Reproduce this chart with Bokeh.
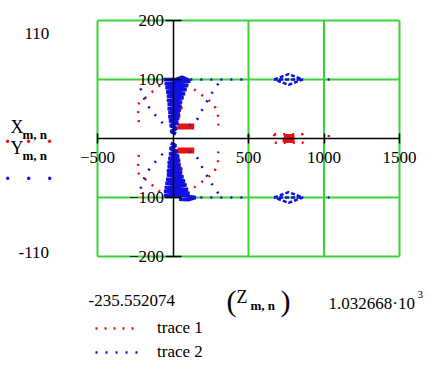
from bokeh.plotting import figure
from bokeh.models import LinearAxis, FixedTicker, Label, Legend, LegendItem, Range1d
from bokeh.embed import file_html
from bokeh.resources import INLINE

# ---------------- data ----------------
# trace 2 : Y(m,n) against Z(m,n)  (blue)
b_col_up_z = [110, 60, 20, -60, 115, -55, 100, -50, 90, -45, 80, -40, 70, -40, 60, -35, 55, -35, 50, -30, 45, -30, 40, -25, 35, -20, 25, -15, 20]
b_col_up_y = [98, 104, 100, 100, 97, 93, 90, 86, 83, 79, 76, 72, 69, 65, 62, 58, 55, 51, 48, 44, 41, 37, 34, 30, 26, 22, 17, 12, 8]
b_col_dn_z = [-15, 20, -20, 30, -25, 40, -30, 45, -35, 50, -35, 55, -40, 60, -40, 70, -45, 80, -50, 90, -55, 100, -60, 110, -60, 60, 150, 100, 40]
b_col_dn_y = [-8, -12, -17, -22, -26, -30, -34, -37, -41, -44, -48, -51, -55, -58, -62, -65, -69, -72, -76, -79, -83, -86, -90, -93, -97, -96, -100, -104, -103]
b_top_z = [115, 500]
b_top_y = [100, 100]
b_bot_z = [115, 500]
b_bot_y = [-100, -100]
b_dia_up_z = [670, 765, 860, 765, 670, 860]
b_dia_up_y = [100, 109, 100, 91, 100, 100]
b_dia_dn_z = [670, 765, 860, 765, 670, 860]
b_dia_dn_y = [-100, -91, -100, -109, -100, -100]
b_end_up_z = [1024, 1040]
b_end_up_y = [100, 100]
b_end_dn_z = [1024, 1040]
b_end_dn_y = [-100, -100]
b_ul_z = [-215, -180, -145, -95, -45]
b_ul_y = [85, 60, 48, 33, 20]
b_ur_z = [300, 252, 200, 165, 110]
b_ur_y = [93, 75, 52, 34, 22]
b_ll_z = [-215, -180, -145, -95, -45]
b_ll_y = [-85, -60, -48, -33, -20]
b_lr_z = [300, 252, 200, 165, 110]
b_lr_y = [-93, -75, -52, -34, -22]

# trace 1 : X(m,n) against Z(m,n)  (red)
r_col_up_z = [-20, 40, -25, 50, -20, 60, -15, 45, 0, 30]
r_col_up_y = [90, 84, 76, 70, 62, 52, 44, 38, 32, 28]
r_col_dn_z = [-20, 40, -25, 50, -20, 60, -15, 45, 0, 30]
r_col_dn_y = [-90, -84, -76, -70, -62, -52, -44, -38, -32, -28]
r_bar_up_z = [30, 140, 30, 140]
r_bar_up_y = [23, 23, 18, 18]
r_bar_dn_z = [30, 140, 30, 140]
r_bar_dn_y = [-18, -18, -23, -23]
r_ul_z = [-40, -110, -170, -232, -230, -225]
r_ul_y = [100, 85, 72, 58, 40, 22]
r_ur_z = [40, 130, 210, 271, 298, 300]
r_ur_y = [100, 85, 70, 58, 41, 22]
r_ll_z = [-40, -110, -170, -232, -230, -225]
r_ll_y = [-100, -85, -72, -58, -40, -22]
r_lr_z = [40, 130, 210, 271, 298, 300]
r_lr_y = [-100, -85, -70, -58, -41, -22]
r_m500_z = [500, 500]
r_m500_y = [6, -6]
r_m1032_z = [1032, 1032]
r_m1032_y = [6, -6]
r_box_z = [670, 860, 860, 670, 670]
r_box_y = [7, 7, -7, -7, 7]
r_blk_z = [735, 795, 795, 735, 735, 795]
r_blk_y = [5, 5, -5, -5, 0, 0]

x_ticks = [-500, 500, 1000, 1500]
y_ticks = [-200, -100, 100, 200]
x_grid = [-500, 500, 1000, 1500]
y_grid = [-200, -100, 100, 200]
x_lim = (-500, 1500)
y_lim = (-200, 200)

GREEN = "#3ad43a"
RED = "#e81010"
BLUE = "#1010e0"
FONT = "Liberation Serif"
W, H = 430, 368

# page pixel -> data (plot box spans px 97..399 horizontally, 20..256 vertically)
def px2x(px):
    return x_lim[0] + (px - 97) * (x_lim[1] - x_lim[0]) / 302

def py2y(py):
    return y_lim[1] - (py - 20) * (y_lim[1] - y_lim[0]) / 236

p = figure(width=W, height=H, x_range=Range1d(px2x(0), px2x(W)), y_range=Range1d(py2y(H), py2y(0)),
           x_axis_location=None, y_axis_location=None, output_backend="svg",
           toolbar_location=None, min_border=0)
p.center = []
p.outline_line_color = None
p.background_fill_color = "white"
p.border_fill_color = "white"

# green grid / plot box, limited to the plot box
p.segment(x0=x_grid, y0=[y_lim[0]] * len(x_grid), x1=x_grid, y1=[y_lim[1]] * len(x_grid),
          line_color=GREEN, line_width=2)
p.segment(x0=[x_lim[0]] * len(y_grid), y0=y_grid, x1=[x_lim[1]] * len(y_grid), y1=y_grid,
          line_color=GREEN, line_width=2)

red_xs = [r_ul_z, r_ur_z, r_ll_z, r_lr_z, r_m500_z, r_m1032_z, r_box_z]
red_ys = [r_ul_y, r_ur_y, r_ll_y, r_lr_y, r_m500_y, r_m1032_y, r_box_y]
red_dense_xs = [r_col_up_z, r_col_dn_z, r_bar_up_z, r_bar_dn_z, r_blk_z]
red_dense_ys = [r_col_up_y, r_col_dn_y, r_bar_up_y, r_bar_dn_y, r_blk_y]
blue_xs = [b_top_z, b_bot_z, b_end_up_z, b_end_dn_z, b_ul_z, b_ur_z, b_ll_z, b_lr_z]
blue_ys = [b_top_y, b_bot_y, b_end_up_y, b_end_dn_y, b_ul_y, b_ur_y, b_ll_y, b_lr_y]
blue_mid_xs = [b_dia_up_z, b_dia_dn_z]
blue_mid_ys = [b_dia_up_y, b_dia_dn_y]
blue_dense_xs = [b_col_up_z, b_col_dn_z]
blue_dense_ys = [b_col_up_y, b_col_dn_y]

r1 = p.multi_line(xs=red_xs, ys=red_ys, line_color=RED, line_width=2.5, line_dash="2 7")
p.multi_line(xs=red_dense_xs, ys=red_dense_ys, line_color=RED, line_width=3)
r2 = p.multi_line(xs=blue_xs, ys=blue_ys, line_color=BLUE, line_width=2.5, line_dash="2 8")
p.multi_line(xs=blue_mid_xs, ys=blue_mid_ys, line_color=BLUE, line_width=2.5, line_dash="4 2")
p.multi_line(xs=blue_dense_xs, ys=blue_dense_ys, line_color=BLUE, line_width=3.5)

xa = LinearAxis(fixed_location=0, ticker=FixedTicker(ticks=x_ticks), bounds=x_lim)
ya = LinearAxis(fixed_location=0, ticker=FixedTicker(ticks=y_ticks), bounds=y_lim)
for ax in (xa, ya):
    ax.axis_line_color = "black"
    ax.axis_line_width = 1.5
    ax.major_tick_line_color = "black"
    ax.major_tick_line_width = 1.5
    ax.minor_tick_line_color = None
    ax.major_label_text_font = FONT
    ax.major_label_text_font_size = "17px"
    ax.major_label_text_color = "black"
xa.major_tick_in = 5
xa.major_tick_out = 5
xa.major_label_standoff = 8
ya.major_tick_in = 8
ya.major_tick_out = 8
ya.major_label_standoff = 1
p.add_layout(xa, "below")
p.add_layout(ya, "left")

def lab(text, px, py, size="17px", color="black", align="left", style="normal"):
    p.add_layout(Label(x=px2x(px), y=py2y(py), text=text, text_font=FONT, text_font_size=size,
                       text_color=color, text_align=align, text_baseline="middle",
                       text_font_style=style))

lab("110", 24, 33)
lab("-110", 18, 252)
lab("X", 10, 126, "18px")
lab("m, n", 22, 134, "13px", style="bold")
lab("Y", 10, 147, "18px")
lab("m, n", 22, 155, "13px", style="bold")
for dx in (7, 28, 49):
    lab("\u00b7", dx, 140, "20px", color=RED, align="center", style="bold")
    lab("\u00b7", dx, 177, "20px", color=BLUE, align="center", style="bold")
lab("-235.552074", 88, 300)
lab("(", 226, 300, "30px")
lab("Z", 236, 296, "18px")
lab("m, n", 250, 305, "13px", style="bold")
lab(")", 280, 300, "30px")
lab("1.032668\u00b710", 328, 303)
lab("3", 417, 294, "11px")

legend = Legend(items=[LegendItem(label="trace 1", renderers=[r1]),
                       LegendItem(label="trace 2", renderers=[r2])],
                location=(95, 6), label_text_font=FONT, label_text_font_size="17px",
                label_text_color="black",
                glyph_width=45, glyph_height=20, label_height=20, label_standoff=17,
                spacing=4, padding=0, margin=0, border_line_color=None,
                background_fill_alpha=0)
p.add_layout(legend)

open("out.html", "w").write(file_html(p, INLINE))
